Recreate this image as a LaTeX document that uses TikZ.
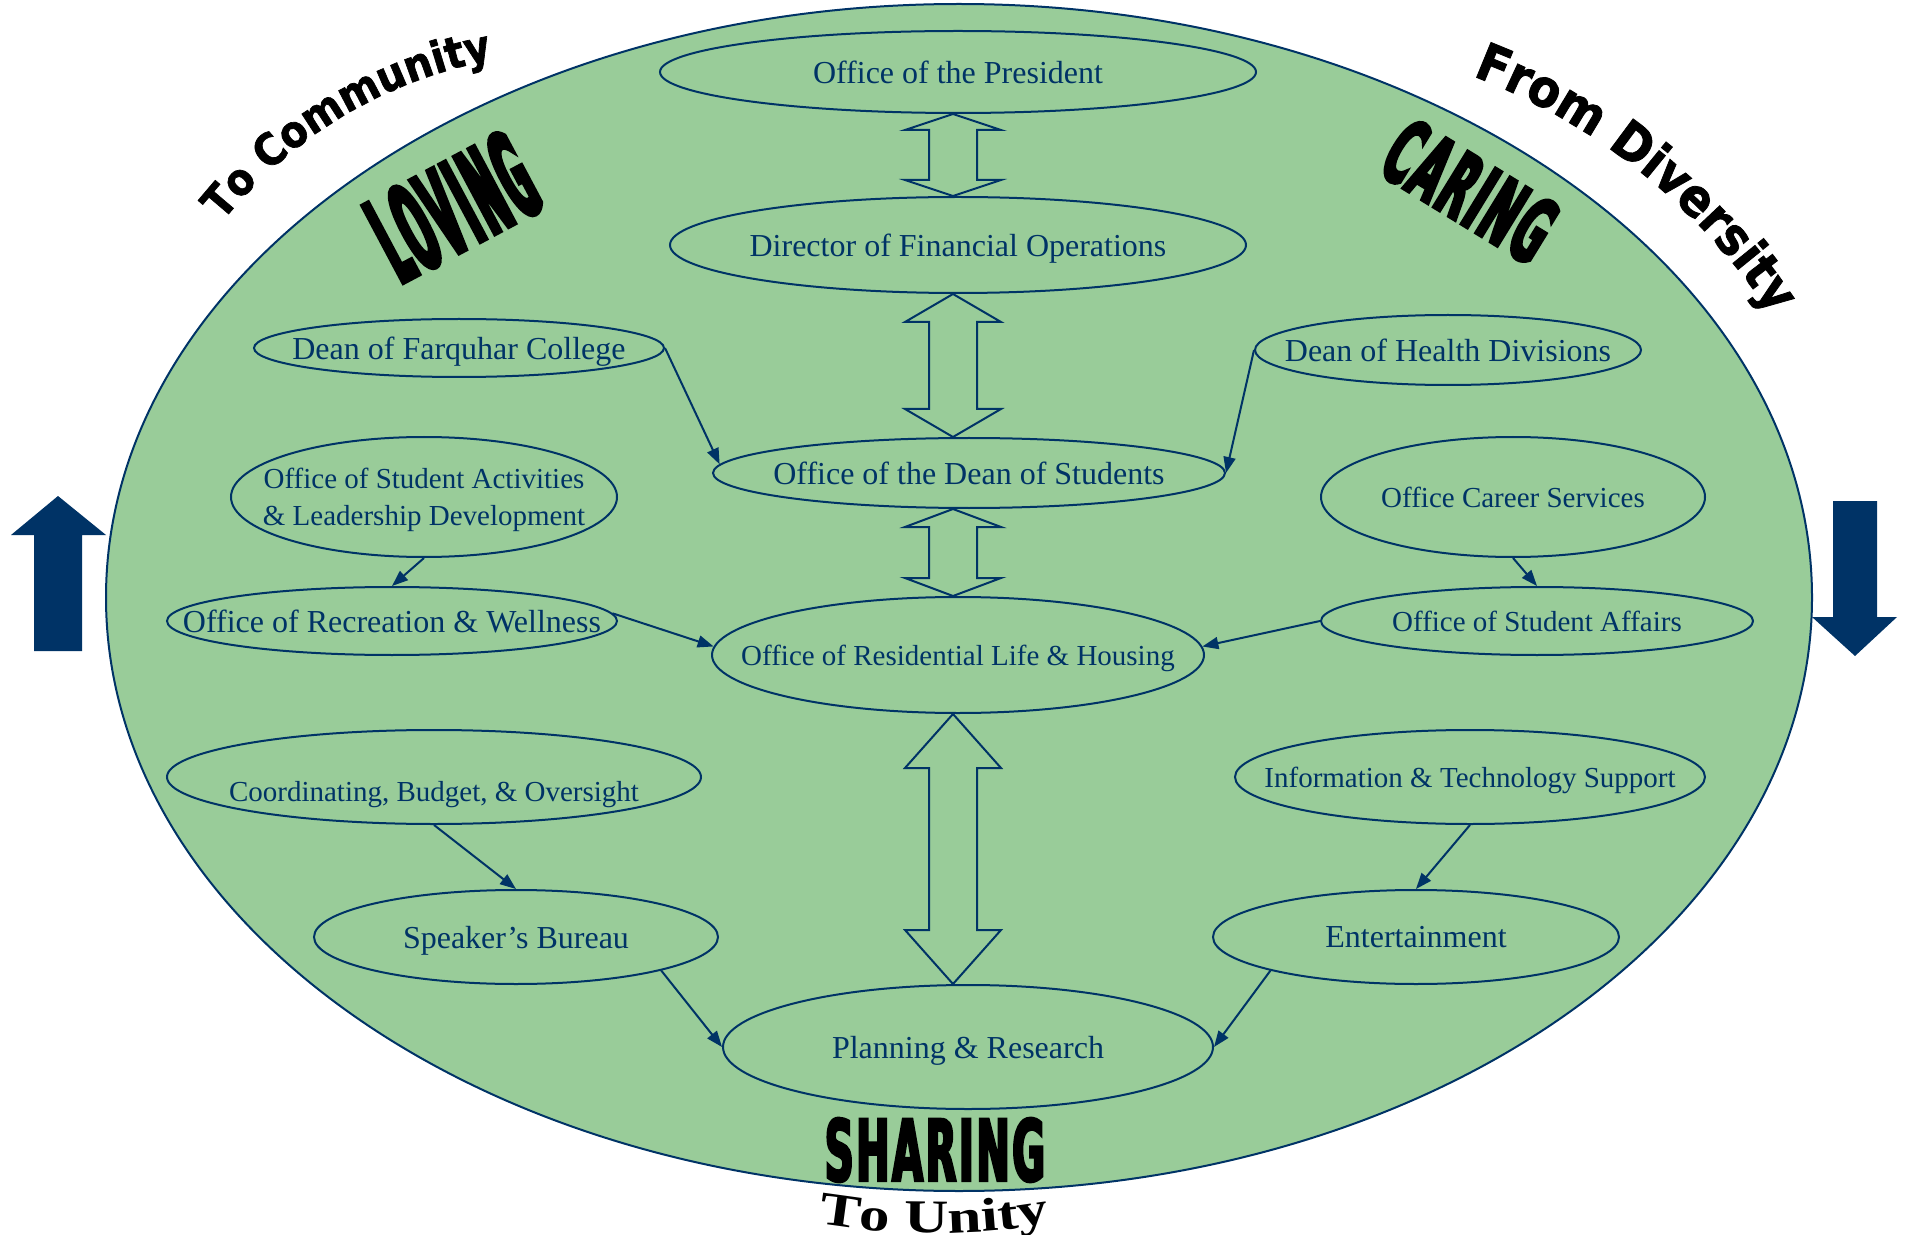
\documentclass[tikz,border=0pt]{standalone}
\usepackage{fontspec}
\setmainfont{Liberation Serif}
\usetikzlibrary{arrows.meta,calc,decorations.text,shapes.geometric}
\newfontfamily\arcfont{DejaVu Sans Bold}[FakeStretch=0.9,FakeBold=1.5]
\newfontfamily\lovingfont{DejaVu Sans Bold}[FakeStretch=0.29,FakeBold=3.5,LetterSpace=3]
\newfontfamily\caringfont{DejaVu Sans Bold}[FakeStretch=0.43,FakeBold=3.5,LetterSpace=3]
\newfontfamily\sharingfont{DejaVu Sans Bold}[FakeStretch=0.47,FakeBold=3,LetterSpace=3]
\newfontfamily\unityfont{Liberation Serif Bold}[FakeStretch=1.3]
\definecolor{navy}{RGB}{0,51,102}
\definecolor{ovalgreen}{RGB}{153,204,153}
\tikzset{
  unit/.style={ellipse, draw=navy, line width=1pt, inner sep=0pt},
  bigtxt/.style={font=\fontsize{16}{19}\selectfont, text=navy, align=center, inner sep=0pt, text depth=0pt},
  smalltxt/.style={font=\fontsize{14.5}{18.5}\selectfont, text=navy, align=center, inner sep=0pt, text depth=0pt},
  link/.style={draw=navy, line width=1pt, -{Triangle[length=8pt,width=6pt]}},
  blockarrow/.style={draw=navy, line width=1pt, line join=miter},
}
\newcommand\blockarr[3]{%
  \draw[blockarrow] (#1.south -| axis) -- ++(48,#3) -- ++(-24,0)
    -- ($(#2.north -| axis)+(24,-#3)$) -- ++(24,0) -- (#2.north -| axis)
    -- ++(-48,-#3) -- ++(24,0) -- ($(#1.south -| axis)+(-24,#3)$)
    -- ++(-24,0) -- cycle;}
\begin{document}
\begin{tikzpicture}[x=0.5pt,y=-0.5pt]
\useasboundingbox (0,0) rectangle (1906,1235);
% background oval
\draw[navy, line width=1pt, fill=ovalgreen] (959,597.5) ellipse [x radius=853, y radius=593.5];
% side arrows
\fill[navy] (58,496) -- (106,535) -- (82,535) -- (82,651) -- (34,651) -- (34,535) -- (11,535) -- cycle;
\fill[navy] (1855,656) -- (1897,617) -- (1877,617) -- (1877,501) -- (1833,501) -- (1833,617) -- (1812,617) -- cycle;
\coordinate (axis) at (953,0);
% units
\node[unit, minimum width=298pt, minimum height=41pt] (pres) at (958,72) {};
\node[unit, minimum width=288pt, minimum height=48pt] (dir) at (958,245) {};
\node[unit, minimum width=205pt, minimum height=29pt] (far) at (459,348) {};
\node[unit, minimum width=193pt, minimum height=35pt] (hea) at (1448,350) {};
\node[unit, minimum width=256pt, minimum height=35pt] (dos) at (969,473) {};
\node[unit, minimum width=193pt, minimum height=60pt] (act) at (424,497) {};
\node[unit, minimum width=192pt, minimum height=60pt] (car) at (1513,497) {};
\node[unit, minimum width=225pt, minimum height=34pt] (rec) at (392,621) {};
\node[unit, minimum width=216pt, minimum height=34pt] (aff) at (1537,621) {};
\node[unit, minimum width=246pt, minimum height=58pt] (res) at (958,655) {};
\node[unit, minimum width=267pt, minimum height=47pt] (coo) at (434,777) {};
\node[unit, minimum width=235pt, minimum height=47pt] (inf) at (1470,777) {};
\node[unit, minimum width=202pt, minimum height=47pt] (spk) at (516,937) {};
\node[unit, minimum width=203pt, minimum height=47pt] (ent) at (1416,937) {};
\node[unit, minimum width=245pt, minimum height=62pt] (pla) at (968,1047) {};
% texts
\node[bigtxt] (pres-t) at (pres) {Office of the President};
\node[bigtxt] (dir-t) at (dir) {Director of Financial Operations};
\node[bigtxt] (far-t) at (far) {Dean of Farquhar College};
\node[bigtxt] (hea-t) at (hea) {Dean of Health Divisions};
\node[bigtxt] (dos-t) at (dos) {Office of the Dean of Students};
\node[smalltxt] (act-t) at (act) {Office of Student Activities\\ \& Leadership Development};
\node[smalltxt] (car-t) at (car) {Office Career Services};
\node[bigtxt] (rec-t) at (rec) {Office of Recreation \& Wellness};
\node[smalltxt] (aff-t) at (aff) {Office of Student Affairs};
\node[smalltxt] (res-t) at (res) {Office of Residential Life \& Housing};
\node[smalltxt] (coo-t) at ($(coo)+(0,14)$) {Coordinating, Budget, \& Oversight};
\node[smalltxt] (inf-t) at (inf) {Information \& Technology Support};
\node[bigtxt] (spk-t) at (spk) {Speaker’s Bureau};
\node[bigtxt] (ent-t) at (ent) {Entertainment};
\node[bigtxt] (pla-t) at (pla) {Planning \& Research};
% block double arrows
\blockarr{pres}{dir}{16}
\blockarr{dir}{dos}{28}
\blockarr{dos}{res}{18}
\blockarr{res}{pla}{54}
% thin connectors
\draw[link] (far.east) -- (dos.178);
\draw[link] (hea.west) -- (dos.east);
\draw[link] (act.south) -- (rec.north);
\draw[link] (car.south) -- (aff.north);
\draw[link] (rec.2) -- (res.178);
\draw[link] (aff.west) -- (res.2);
\draw[link] (coo.south) -- (spk.north);
\draw[link] (inf.south) -- (ent.north);
\draw[link] (spk.-13) -- (pla.west);
\draw[link] (ent.-167) -- (pla.east);
% words
\node[text=black, rotate=28, inner sep=0pt] (loving) at (453,207) {\lovingfont\fontsize{60}{60}\selectfont LOVING};
\node[text=black, rotate=-31.5, inner sep=0pt] (caring) at (1470,191) {\caringfont\fontsize{45}{45}\selectfont CARING};
\node[text=black, inner sep=0pt] (sharing) at (935,1150) {\sharingfont\fontsize{42.5}{42.5}\selectfont SHARING};
\path[decorate, decoration={text along path, text align=center,
   text={|\arcfont\fontsize{22}{22}\selectfont|To Community}}]
   ($(574,502.5)+(-145.9:450)$) arc[start angle=-145.9, end angle=-95.9, radius=450];
\path[decorate, decoration={text along path, text align=center,
   text={|\arcfont\fontsize{26}{26}\selectfont|From Diversity}}]
   ($(1250,660)+(-76.3:625)$) arc[start angle=-76.3, end angle=-26.3, radius=625];
\path[decorate, decoration={text along path, text align=center,
   text={|\unityfont\fontsize{23.5}{23.5}\selectfont|To Unity}}]
   ($(934,533)+(115:700)$) arc[start angle=115, end angle=65, radius=700];
\end{tikzpicture}
\end{document}
